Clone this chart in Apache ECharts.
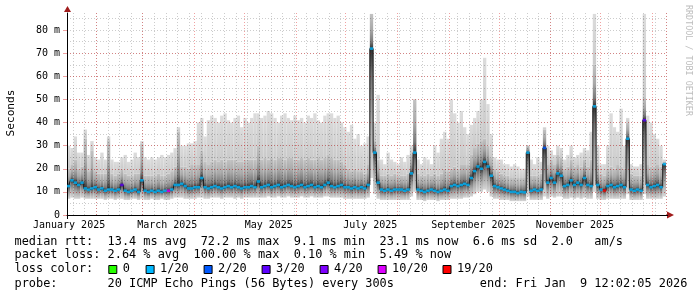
<!DOCTYPE html>
<html><head><meta charset="utf-8">
<script src="https://cdn.jsdelivr.net/npm/echarts@6/dist/echarts.min.js"></script>
<style>html,body{margin:0;padding:0;background:#fff}#c{width:697px;height:297px}</style>
</head><body><div id="c"></div>
<script>
// ---- axis / label data ----
const rangeStartUTC = [2025, 0, 14, 12];   // start of the 360-day window
const halfDayCount = 720;
const labelMonths = ['01', '03', '05', '07', '09', '11'];
const monthNames = ['January','February','March','April','May','June','July','August','September','October','November','December'];
const yTicks = [0, 10, 20, 30, 40, 50, 60, 70, 80];

// ---- series data (2-day bins, ms) ----
const smokeLo = [
 7,7.5,7,7,7.5,7,7,7,7,
 7,7,6.5,7,7,6.5,7,7,6.5,6.5,7,7,6.5,7,
 6.5,6.5,7,6.5,6.5,7,6.5,6.5,7,7.5,7.5,7.5,7,7,7,7,
 7.5,7.5,7,7,7.5,7.5,7.5,7,7.5,7.5,7.5,7,7.5,7,7.5,
 7.5,7.5,7.5,7.5,7.5,7.5,8,7.5,7.5,8,7.5,7.5,8,7.5,7.5,
 7.5,8,7.5,7.5,8,7.5,7.5,7.5,8,8,7.5,7.5,7.5,7.5,7,
 7,7,7,7,7,7,7.5,16,9,7,6.5,6.5,6.5,6.5,6.5,6.5,
 6.5,6.5,6.5,8,10,6.5,6.5,6,6.5,6.5,6.5,6,6.5,6.5,6.5,
 7,7,7,7,7.5,7.5,8,9,10,10,11,10,8,7,7,
 6.5,6.5,6.5,6,6,6,6,6,8,6.5,6.5,6.5,6.5,8,7,
 8,7.5,8,8,7,7,7.5,7,7.5,7,7.5,7,7,10,7,6.5,
 6.5,7,7,7,7,7,7,9,6.5,6.5,6.5,6.5,9,7,7,
 7,7,7,8
];
const median = [
 12.5,15,14,13,14,11.5,11,11.5,12,
 11,11.5,10.5,11,11,10.5,11,13,10.5,10,10.5,11,10,15,
 10.5,10,10.5,10,10.5,10,10.5,10.5,11,13,13,13.5,12.5,11.5,11.5,12,
 12,16,12,11.5,12,12.5,12,11.5,12,12.5,12,12.5,12,11.5,12,
 12,12.5,12,14.5,12,12.5,13,12,12.5,13,12,12.5,13,12.5,12,
 12.5,13,12,12.5,13,12,12.5,12,13,14,12.5,12,12.5,13,12,
 12,11.5,12,11.5,12,11.5,13,72,27,14,11,10.5,11,10.5,11,11,
 11,10.5,11,18,27,11,10.5,10,10.5,11,10.5,10,10.5,11,10.5,
 12.5,13,12.5,13,13.5,13,16,19,21,20,23,21,17,12.5,12,
 11.5,11,10.5,10,10,9.5,10,9.8,27,10.5,11,10.5,11,29,14,
 16,14,18,17,12.5,13,15,13,14,13,16,13,12.5,47,13,11,
 10.6,12.5,13,12,12.5,13,12,33,11,10.5,11,10.5,41,13,12,
 12.5,13,12,22
];
const smokeMid = [
 20,22,24,20,21,33,19,28,19,
 18,18,18,32,18,17,18,20,18,17,17,18,18,31,
 17,17,17,17,18,17,17,18,19,21,36,21,21,20,22,22,
 22,28,23,22,23,24,23,24,23,24,24,24,23,23,24,
 24,24,24,30,24,25,24,25,24,25,25,24,25,25,24,
 24,25,24,25,24,24,25,24,25,26,25,24,24,23,22,
 20,19,20,19,19,18,22,87,32,24,17,17,18,17,18,17,
 17,17,18,26,50,18,17,17,18,17,18,17,18,20,19,
 20,21,20,22,22,22,26,29,31,32,33,30,25,20,19,
 18,17,17,16,16,16,16,16,30,17,17,17,18,37,22,
 24,22,26,25,20,21,24,21,22,21,24,21,24,65,22,18,
 17,20,21,20,22,21,20,40,18,17,17,17,51,22,21,
 21,22,21,23
];
const smokeHi = [
 30,29,34,27,27,37,26,32,25,
 24,27,24,34,24,23,23,25,26,23,24,27,25,32,
 25,24,25,24,25,26,25,26,27,29,38,30,30,31,31,32,
 40,42,34,41,43,42,40,43,44,41,40,42,43,38,42,
 40,42,44,44,42,43,45,44,42,40,43,44,42,41,43,
 41,42,40,43,42,44,41,40,43,44,44,42,43,40,38,
 36,39,33,35,30,31,34,87,40,52,24,22,27,24,23,22,
 25,23,26,30,50,24,22,25,24,22,30,27,33,36,33,
 50,44,40,45,38,35,39,42,45,50,68,48,35,25,24,
 24,22,22,21,22,21,20,20,30,24,22,25,23,38,30,
 28,26,30,29,24,26,30,25,26,27,29,28,36,87,30,22,
 22,30,44,38,36,46,30,42,22,21,21,22,87,43,40,
 35,33,30,24
];
// bins whose loss differs from the usual 1/20: [bin, loss level]
const lossEvents = [[16, 3], [30, 10], [143, 2], [161, 19], [173, 3]];
const defaultLoss = 1;

// ---- legend ----
const lossLegend = [['0', '#26ff00'], ['1/20', '#00b8ff'], ['2/20', '#0059ff'], ['3/20', '#5e00ff'], ['4/20', '#7e00ff'], ['10/20', '#dd00ff'], ['19/20', '#ff0000']];
const lossColorOf = {0: '#26ff00', 1: '#00b8ff', 2: '#0059ff', 3: '#5e00ff', 4: '#7e00ff', 10: '#dd00ff', 19: '#ff0000'};
const statLines = [
 'median rtt:  13.4 ms avg  72.2 ms max  9.1 ms min  23.1 ms now  6.6 ms sd  2.0   am/s',
 'packet loss: 2.64 % avg  100.00 % max  0.10 % min  5.49 % now',
 'loss color:',
 'probe:       20 ICMP Echo Pings (56 Bytes) every 300s            end: Fri Jan  9 12:02:05 2026'
];

// ---- build ----
const t0 = Date.UTC(...rangeStartUTC);
const halfDays = [];
for (let i = 0; i < halfDayCount; i++) halfDays.push(new Date(t0 + i * 43200000).toISOString().slice(0, 13));
const bins = median.map((_, i) => i);
const lossMap = {}; lossEvents.forEach(e => lossMap[e[0]] = e[1]);

const MONO = "'DejaVu Sans Mono', monospace";
const gridL = 67, gridT = 13, gridR = 31, gridB = 82;
const xBottom = 297 - gridB, xRight = 697 - gridR;

const grad = (stops) => ({type: 'linear', x: 0, y: 0, x2: 0, y2: 1, colorStops: stops.map(s => ({offset: s[0], color: s[1]}))});

const chart = echarts.init(document.getElementById('c'), null, {renderer: 'canvas'});

const graphics = [];
graphics.push({type: 'polygon', shape: {points: [[xRight + 1, xBottom - 3.5], [xRight + 8, xBottom], [xRight + 1, xBottom + 3.5]]}, style: {fill: '#a01c1c'}, z: 20});
graphics.push({type: 'line', shape: {x1: xRight, y1: xBottom + 0.5, x2: xRight + 2, y2: xBottom + 0.5}, style: {stroke: '#000', lineWidth: 1}, z: 20});
graphics.push({type: 'polygon', shape: {points: [[gridL - 3, gridT - 1], [gridL + 0.5, gridT - 7], [gridL + 4, gridT - 1]]}, style: {fill: '#a01c1c'}, z: 20});
graphics.push({type: 'line', shape: {x1: gridL + 0.5, y1: xBottom, x2: gridL + 0.5, y2: xBottom + 4}, style: {stroke: '#000', lineWidth: 1}, z: 20});
graphics.push({type: 'text', x: 11, y: 113, rotation: Math.PI / 2, style: {text: 'Seconds', font: "11.2px " + MONO, fill: '#000', textAlign: 'center', textVerticalAlign: 'middle'}});
graphics.push({type: 'text', x: 688, y: 5, rotation: -Math.PI / 2, style: {text: 'RRDTOOL / TOBI OETIKER', font: "8.4px " + MONO, fill: '#bdbdbd', textAlign: 'left', textVerticalAlign: 'middle'}});
const lineY = [241.5, 255.3, 269.3, 283.5];
statLines.forEach((s, i) => graphics.push({type: 'text', x: 14.5, y: lineY[i], style: {text: s, font: "11.9px " + MONO, fill: '#000', textAlign: 'left', textVerticalAlign: 'middle'}}));
let bx = 108.3;
lossLegend.forEach(([lbl, col]) => {
  graphics.push({type: 'rect', shape: {x: bx + 0.5, y: 265.5, width: 8, height: 8}, style: {fill: col, stroke: '#000', lineWidth: 1}});
  graphics.push({type: 'text', x: bx + 14.5, y: lineY[2], style: {text: lbl, font: "11.9px " + MONO, fill: '#000', textAlign: 'left', textVerticalAlign: 'middle'}});
  bx += 30.4 + lbl.length * 6.9;
});

const gridGray = 'rgba(0,0,0,0.2)', gridRed = 'rgba(220,30,30,0.42)';

const option = {
  animation: false,
  backgroundColor: '#fff',
  grid: {left: gridL, top: gridT, right: gridR, bottom: gridB, containLabel: false},
  xAxis: [
    {
      type: 'category', data: halfDays, boundaryGap: true, position: 'bottom', z: 3,
      axisLine: {show: true, lineStyle: {color: '#000', width: 1}},
      axisTick: {show: false},
      axisLabel: {
        show: true, margin: 5, color: '#000', fontFamily: MONO, fontSize: 10,
        interval: (i, v) => v.slice(8, 13) === '15T12' && v.startsWith('2025') && labelMonths.includes(v.slice(5, 7)),
        formatter: v => monthNames[+v.slice(5, 7) - 1] + ' ' + v.slice(0, 4)
      },
      splitLine: {show: true, interval: (i, v) => new Date(v.slice(0, 10) + 'T00:00:00Z').getUTCDay() === 6 && v.slice(11, 13) === '00',
        lineStyle: {color: gridGray, width: 1, type: [1, 2]}}
    },
    {type: 'category', data: bins, boundaryGap: true, show: false},
    {
      type: 'category', data: halfDays, boundaryGap: true, position: 'bottom', z: 3,
      axisLine: {show: false}, axisTick: {show: false}, axisLabel: {show: false},
      splitLine: {show: true, interval: (i, v) => v.slice(8, 13) === '01T00', lineStyle: {color: gridRed, width: 1, type: [1, 2]}}
    }
  ],
  yAxis: [
    {
      type: 'value', min: 0, max: 87.4, interval: 10, z: 4,
      axisLine: {show: true, lineStyle: {color: '#000', width: 1}},
      axisTick: {show: true, length: 4, customValues: yTicks, lineStyle: {color: gridRed}},
      axisLabel: {show: true, customValues: yTicks, margin: 7, color: '#000', fontFamily: MONO, fontSize: 10,
        formatter: v => v === 0 ? '0' : (yTicks.includes(v) ? v + ' m' : '')},
      splitLine: {show: true, showMinLine: false, showMaxLine: false, lineStyle: {color: gridRed, width: 1, type: [1, 2]}}
    },
    {
      type: 'value', min: 0, max: 87.4, interval: 5, z: 3,
      axisLine: {show: false}, axisTick: {show: false}, axisLabel: {show: false},
      splitLine: {show: true, showMinLine: false, showMaxLine: false, lineStyle: {color: gridGray, width: 1, type: [1, 2]}}
    }
  ],
  series: [
    {type: 'bar', xAxisIndex: 1, yAxisIndex: 0, stack: 'smoke', barCategoryGap: '0%', z: 1, silent: true,
      itemStyle: {color: 'rgba(0,0,0,0)'}, data: smokeLo},
    {type: 'bar', xAxisIndex: 1, yAxisIndex: 0, stack: 'smoke', barCategoryGap: '0%', z: 1, silent: true,
      itemStyle: {color: grad([[0, '#303030'], [0.2, '#707070'], [0.55, '#a8a8a8'], [1, '#d6d6d6']])}, data: median.map((m, i) => m - smokeLo[i])},
    {type: 'bar', xAxisIndex: 1, yAxisIndex: 0, stack: 'smoke', barCategoryGap: '0%', z: 1, silent: true,
      itemStyle: {color: grad([[0, '#c2c2c2'], [0.45, '#a8a8a8'], [0.8, '#7a7a7a'], [1, '#303030']])}, data: smokeMid.map((m, i) => m - median[i])},
    {type: 'bar', xAxisIndex: 1, yAxisIndex: 0, stack: 'smoke', barCategoryGap: '0%', z: 1, silent: true,
      itemStyle: {color: grad([[0, '#dcdcdc'], [1, '#cacaca']])}, data: smokeHi.map((m, i) => m - smokeMid[i])},
    {type: 'line', xAxisIndex: 1, yAxisIndex: 0, step: 'middle', showSymbol: false, symbol: 'none', z: 5, silent: true,
      lineStyle: {color: '#1a1a1a', width: 1}, data: median},
    {type: 'scatter', xAxisIndex: 1, yAxisIndex: 0, symbol: 'rect', symbolSize: [3.4, 2.6], z: 6, silent: true,
      data: median.map((m, i) => ({value: [i, m], itemStyle: {color: lossColorOf[lossMap[i] !== undefined ? lossMap[i] : defaultLoss]}}))}
  ],
  graphic: graphics
};
chart.setOption(option);
</script></body></html>
